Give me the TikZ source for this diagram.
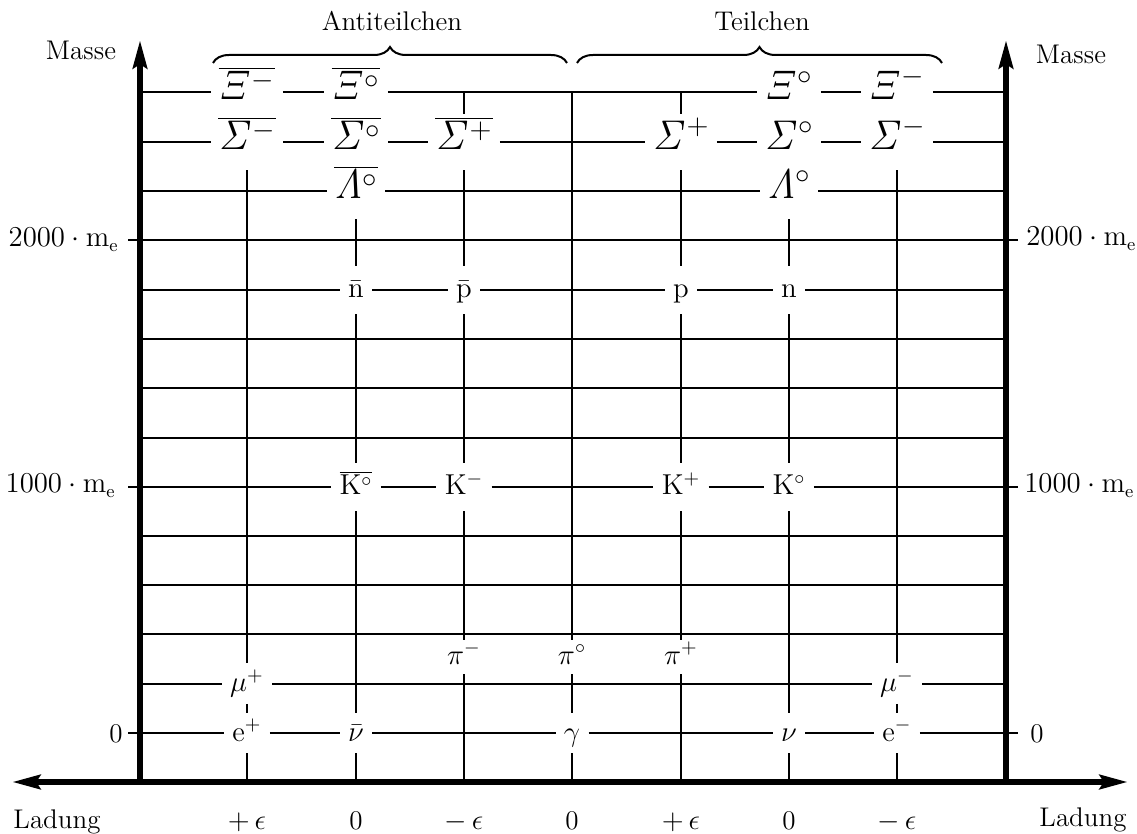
\documentclass[tikz,border=0pt]{standalone}
\usetikzlibrary{arrows.meta,decorations.pathreplacing}
\begin{document}
\begin{tikzpicture}[x=0.5pt,y=-0.5pt,
  gridline/.style={line width=1pt},
  axisline/.style={line width=3pt},
  lab/.style={inner xsep=4pt,inner ysep=3pt,text height=13pt,text depth=5pt,font=\fontsize{14.4}{17}\selectfont},
  low/.style={lab,inner ysep=1pt},
  big/.style={inner xsep=3.5pt,inner ysep=1pt,text height=17pt,text depth=9pt,font=\fontsize{20}{24}\selectfont},
  pis/.style={lab,inner ysep=3pt,text height=9pt,text depth=2pt},
  txt/.style={inner sep=0pt,font=\fontsize{13.5}{16}\selectfont},
  bracestyle/.style={line width=1pt,decorate,decoration={brace,amplitude=8pt}},
  uparrow/.style={axisline,-{Stealth[length=14pt,width=7pt,inset=2pt]}},
  botharrow/.style={axisline,{Stealth[length=14pt,width=7pt,inset=2pt]}-{Stealth[length=14pt,width=7pt,inset=2pt]}}
]
\useasboundingbox (0,0) rectangle (1137,834);

% ---------- row end coordinates ----------
\coordinate (L92) at (140,92);   \coordinate (R92) at (1006,92);
\coordinate (L142) at (140,142); \coordinate (R142) at (1006,142);
\coordinate (L191) at (140,191); \coordinate (R191) at (1006,191);
\coordinate (L240) at (128,240.5); \coordinate (R240) at (1018,240.5);
\coordinate (L290) at (140,290); \coordinate (R290) at (1006,290);
\coordinate (L339) at (140,339); \coordinate (R339) at (1006,339);
\coordinate (L388) at (140,388.5); \coordinate (R388) at (1006,388.5);
\coordinate (L438) at (140,438); \coordinate (R438) at (1006,438);
\coordinate (L487) at (128,487); \coordinate (R487) at (1018,487);
\coordinate (L536) at (140,536); \coordinate (R536) at (1006,536);
\coordinate (L585) at (140,585); \coordinate (R585) at (1006,585);
\coordinate (L634) at (140,634.5); \coordinate (R634) at (1006,634.5);
\coordinate (L683) at (140,683.5); \coordinate (R683) at (1006,683.5);
\coordinate (L733) at (128,733); \coordinate (R733) at (1018,733);

\coordinate (T464) at (464,92);
\coordinate (T572) at (572,92);
\coordinate (T681) at (681,92);
\coordinate (B247) at (247,782);
\coordinate (B356) at (356,782);
\coordinate (B464) at (464,782);
\coordinate (B572) at (572,782);
\coordinate (B681) at (681,782);
\coordinate (B789) at (789,782);
\coordinate (B897) at (897,782);

\coordinate (AxL) at (12,782);
\coordinate (AxR) at (1128,782);
\coordinate (O1) at (140,782);
\coordinate (O2) at (1006,782);
\coordinate (TopL) at (140,40);
\coordinate (TopR) at (1006,40);

% ---------- particle labels ----------
\node[big] (Xibm) at (247,92) {$\overline{\mathit{\Xi}^{-}}$};
\node[big] (Xibz) at (356,92) {$\overline{\mathit{\Xi}^{\circ}}$};
\node[big] (Xiz) at (789,92) {$\mathit{\Xi}^{\circ}$};
\node[big] (Xim) at (897,92) {$\mathit{\Xi}^{-}$};

\node[big] (Sbm) at (247,142) {$\overline{\mathit{\Sigma}^{-}}$};
\node[big] (Sbz) at (356,142) {$\overline{\mathit{\Sigma}^{\circ}}$};
\node[big] (Sbp) at (464,142) {$\overline{\mathit{\Sigma}^{+}}$};
\node[big] (Sp) at (681,142) {$\mathit{\Sigma}^{+}$};
\node[big] (Sz) at (789,142) {$\mathit{\Sigma}^{\circ}$};
\node[big] (Sm) at (897,142) {$\mathit{\Sigma}^{-}$};

\node[big] (Lbz) at (356,191) {$\overline{\mathit{\Lambda}^{\circ}}$};
\node[big] (Lz) at (789,191) {$\mathit{\Lambda}^{\circ}$};

\node[lab] (nb) at (356,290) {$\bar{\mathrm{n}}$};
\node[lab] (pb) at (464,290) {$\bar{\mathrm{p}}$};
\node[lab] (p) at (681,290) {$\mathrm{p}$};
\node[lab] (n) at (789,290) {$\mathrm{n}$};

\node[lab] (Kbz) at (356,487) {$\overline{\mathrm{K}^{\circ}}$};
\node[lab] (Km) at (464,487) {$\mathrm{K}^{-}$};
\node[lab] (Kp) at (681,487) {$\mathrm{K}^{+}$};
\node[lab] (Kz) at (789,487) {$\mathrm{K}^{\circ}$};

\node[pis] (pim) at (464,657) {$\pi^{-}$};
\node[pis] (piz) at (572,657) {$\pi^{\circ}$};
\node[pis] (pip) at (681,657) {$\pi^{+}$};

\node[low] (mup) at (247,683.5) {$\mu^{+}$};
\node[low] (mum) at (897,683.5) {$\mu^{-}$};

\node[low] (ep) at (247,733) {$\mathrm{e}^{+}$};
\node[low] (nub) at (356,733) {$\bar{\nu}$};
\node[low] (gam) at (572,733) {$\gamma$};
\node[low] (nu) at (789,733) {$\nu$};
\node[low] (em) at (897,733) {$\mathrm{e}^{-}$};

% ---------- horizontal grid lines ----------
\draw[gridline] (L92) -- (Xibm) (Xibm) -- (Xibz) (Xibz) -- (Xiz) (Xiz) -- (Xim) (Xim) -- (R92);
\draw[gridline] (L142) -- (Sbm) (Sbm) -- (Sbz) (Sbz) -- (Sbp) (Sbp) -- (Sp) (Sp) -- (Sz) (Sz) -- (Sm) (Sm) -- (R142);
\draw[gridline] (L191) -- (Lbz) (Lbz) -- (Lz) (Lz) -- (R191);
\draw[gridline] (L240) -- (R240);
\draw[gridline] (L290) -- (nb) (nb) -- (pb) (pb) -- (p) (p) -- (n) (n) -- (R290);
\draw[gridline] (L339) -- (R339);
\draw[gridline] (L388) -- (R388);
\draw[gridline] (L438) -- (R438);
\draw[gridline] (L487) -- (Kbz) (Kbz) -- (Km) (Km) -- (Kp) (Kp) -- (Kz) (Kz) -- (R487);
\draw[gridline] (L536) -- (R536);
\draw[gridline] (L585) -- (R585);
\draw[gridline] (L634) -- (R634);
\draw[gridline] (L683) -- (mup) (mup) -- (mum) (mum) -- (R683);
\draw[gridline] (L733) -- (ep) (ep) -- (nub) (nub) -- (gam) (gam) -- (nu) (nu) -- (em) (em) -- (R733);

% ---------- vertical grid lines ----------
\draw[gridline] (Sbm) -- (mup) (mup) -- (ep) (ep) -- (B247);
\draw[gridline] (Lbz) -- (nb) (nb) -- (Kbz) (Kbz) -- (nub) (nub) -- (B356);
\draw[gridline] (T464) -- (Sbp) (Sbp) -- (pb) (pb) -- (Km) (Km) -- (pim) (pim) -- (B464);
\draw[gridline] (T572) -- (piz) (piz) -- (gam) (gam) -- (B572);
\draw[gridline] (T681) -- (Sp) (Sp) -- (p) (p) -- (Kp) (Kp) -- (pip) (pip) -- (B681);
\draw[gridline] (Lz) -- (n) (n) -- (Kz) (Kz) -- (nu) (nu) -- (B789);
\draw[gridline] (Sm) -- (mum) (mum) -- (em) (em) -- (B897);

% ---------- axes ----------
\draw[uparrow] (O1) -- (TopL);
\draw[uparrow] (O2) -- (TopR);
\draw[botharrow] (AxL) -- (AxR);

% ---------- axis texts ----------
\node[txt,anchor=base] (masseL) at (81,60) {Masse};
\node[txt,anchor=base] (masseR) at (1071,64) {Masse};
\node[txt,anchor=base east] (m2000L) at (119,247) {$2000\cdot\mathrm{m_e}$};
\node[txt,anchor=base west] (m2000R) at (1026,246) {$2000\cdot\mathrm{m_e}$};
\node[txt,anchor=base east] (m1000L) at (116,493) {$1000\cdot\mathrm{m_e}$};
\node[txt,anchor=base west] (m1000R) at (1024,493) {$1000\cdot\mathrm{m_e}$};
\node[txt,anchor=base east] (zeroL) at (123,742) {0};
\node[txt,anchor=base west] (zeroR) at (1030,742) {0};

\node[txt,anchor=base] (ladL) at (57,828) {Ladung};
\node[txt,anchor=base] (ladR) at (1083,826) {Ladung};
\node[txt,anchor=base] (q1) at (247,829) {$+\,\epsilon$};
\node[txt,anchor=base] (q2) at (356,829) {0};
\node[txt,anchor=base] (q3) at (464,829) {$-\,\epsilon$};
\node[txt,anchor=base] (q4) at (572,829) {0};
\node[txt,anchor=base] (q5) at (681,829) {$+\,\epsilon$};
\node[txt,anchor=base] (q6) at (789,829) {0};
\node[txt,anchor=base] (q7) at (897,829) {$-\,\epsilon$};

% ---------- braces ----------
\coordinate (brA1) at (213,63);
\coordinate (brA2) at (567,63);
\coordinate (brT1) at (577,63);
\coordinate (brT2) at (942,63);
\draw[bracestyle] (brA1) -- (brA2);
\draw[bracestyle] (brT1) -- (brT2);
\node[txt,anchor=base] (anti) at (392,31) {Antiteilchen};
\node[txt,anchor=base] (teil) at (762,31) {Teilchen};
\end{tikzpicture}
\end{document}
